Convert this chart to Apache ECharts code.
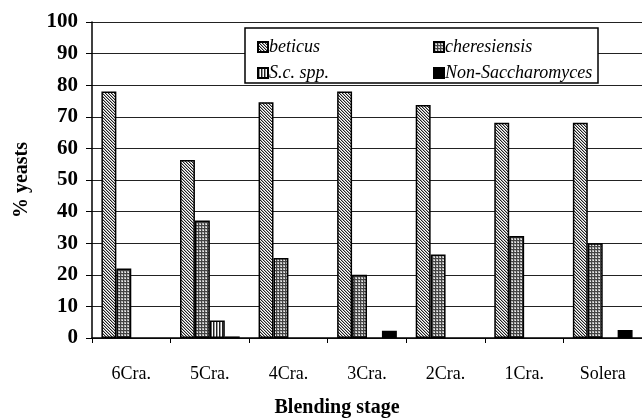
<!DOCTYPE html>
<html>
<head>
<meta charset="utf-8">
<script src="https://cdn.jsdelivr.net/npm/echarts@6/dist/echarts.min.js"></script>
<style>html,body{margin:0;padding:0;background:#fff}#c{width:642px;height:420px}</style>
</head>
<body>
<div id="c"></div>
<script>
const categories = ['6Cra.', '5Cra.', '4Cra.', '3Cra.', '2Cra.', '1Cra.', 'Solera'];
const seriesNames = ['beticus', 'cheresiensis', 'S.c. spp.', 'Non-Saccharomyces'];
const beticus = [78, 56.3, 74.6, 78, 73.7, 68.1, 68.1];
const cheresiensis = [22, 37.2, 25.3, 20, 26.4, 32.3, 30];
const scSpp = [null, 5.5, null, null, null, null, null];
const nonSaccharomyces = [null, 0.5, null, 2.3, null, null, 2.5];
const yTicks = [0, 10, 20, 30, 40, 50, 60, 70, 80, 90, 100];

function makePattern(size, draw) {
  const cv = document.createElement('canvas');
  cv.width = size; cv.height = size;
  const ctx = cv.getContext('2d');
  ctx.fillStyle = '#fff';
  ctx.fillRect(0, 0, size, size);
  draw(ctx);
  return { image: cv, repeat: 'repeat' };
}
const patDiag = makePattern(3, ctx => {
  ctx.fillStyle = '#222';
  for (let i = 0; i < 3; i++) ctx.fillRect(i, i, 1, 1);
  ctx.fillStyle = '#aaa';
  for (let i = 0; i < 3; i++) ctx.fillRect((i + 1) % 3, i, 1, 1);
});
const patCross = makePattern(3, ctx => {
  ctx.fillStyle = '#b0b0b0';
  ctx.fillRect(0, 0, 3, 3);
  ctx.fillStyle = '#444';
  ctx.fillRect(0, 0, 3, 1);
  ctx.fillRect(0, 0, 1, 3);
  ctx.fillStyle = '#eee';
  ctx.fillRect(2, 2, 1, 1);
});
const patVert = makePattern(3, ctx => {
  ctx.fillStyle = '#222';
  ctx.fillRect(0, 0, 1, 3);
  ctx.fillStyle = '#999';
  ctx.fillRect(1, 0, 1, 3);
});
const colors = [patDiag, patCross, patVert, '#000'];
const dataArr = [beticus, cheresiensis, scSpp, nonSaccharomyces];

const chart = echarts.init(document.getElementById('c'));
const serif = 'Liberation Serif';
const legendText = { fontFamily: serif, fontStyle: 'italic', fontSize: 18, color: '#000', padding: [0, 0, 0, -4] };
const legendBase = { orient: 'vertical', top: 33, icon: 'rect', itemWidth: 10, itemHeight: 10, itemGap: 8, z: 10, textStyle: legendText };
const option = {
  animation: false,
  grid: { left: 92, top: 22, width: 553, height: 316, containLabel: false },
  xAxis: {
    type: 'category',
    data: categories,
    boundaryGap: true,
    axisLine: { lineStyle: { color: '#000', width: 1.5 } },
    axisTick: { show: true, length: 5, lineStyle: { color: '#000' } },
    axisLabel: { margin: 27, fontFamily: serif, fontSize: 18, color: '#000' }
  },
  yAxis: {
    type: 'value',
    min: 0, max: 100, interval: 10,
    axisLine: { show: true, lineStyle: { color: '#000', width: 1.5 } },
    axisTick: { show: true, length: 6, lineStyle: { color: '#000' } },
    axisLabel: { margin: 14, fontFamily: serif, fontSize: 21, fontWeight: 'bold', color: '#000',
      formatter: v => yTicks.includes(v) ? String(v) : '' },
    splitLine: { show: true, lineStyle: { color: '#222', width: 1 } }
  },
  legend: [
    Object.assign({ data: [seriesNames[0], seriesNames[2]], left: 252 }, legendBase),
    Object.assign({ data: [seriesNames[1], seriesNames[3]], left: 428 }, legendBase)
  ],
  graphic: [
    { type: 'rect', z: 5, shape: { x: 245, y: 28, width: 353, height: 55 }, style: { fill: '#fff', stroke: '#000', lineWidth: 1.5 } },
    { type: 'text', x: 22, y: 180, rotation: Math.PI / 2, style: { text: '% yeasts', fontFamily: serif, fontSize: 20, fontWeight: 'bold', fill: '#000', align: 'center', verticalAlign: 'middle' } },
    { type: 'text', x: 337, y: 408, style: { text: 'Blending stage', fontFamily: serif, fontSize: 20, fontWeight: 'bold', fill: '#000', align: 'center', verticalAlign: 'middle' } }
  ],
  series: seriesNames.map((name, i) => ({
    name,
    type: 'bar',
    data: dataArr[i],
    barGap: '0%',
    barCategoryGap: '24%',
    itemStyle: { color: colors[i], borderColor: '#000', borderWidth: 1.5 },
    emphasis: { disabled: true }
  }))
};
chart.setOption(option);
</script>
</body>
</html>
